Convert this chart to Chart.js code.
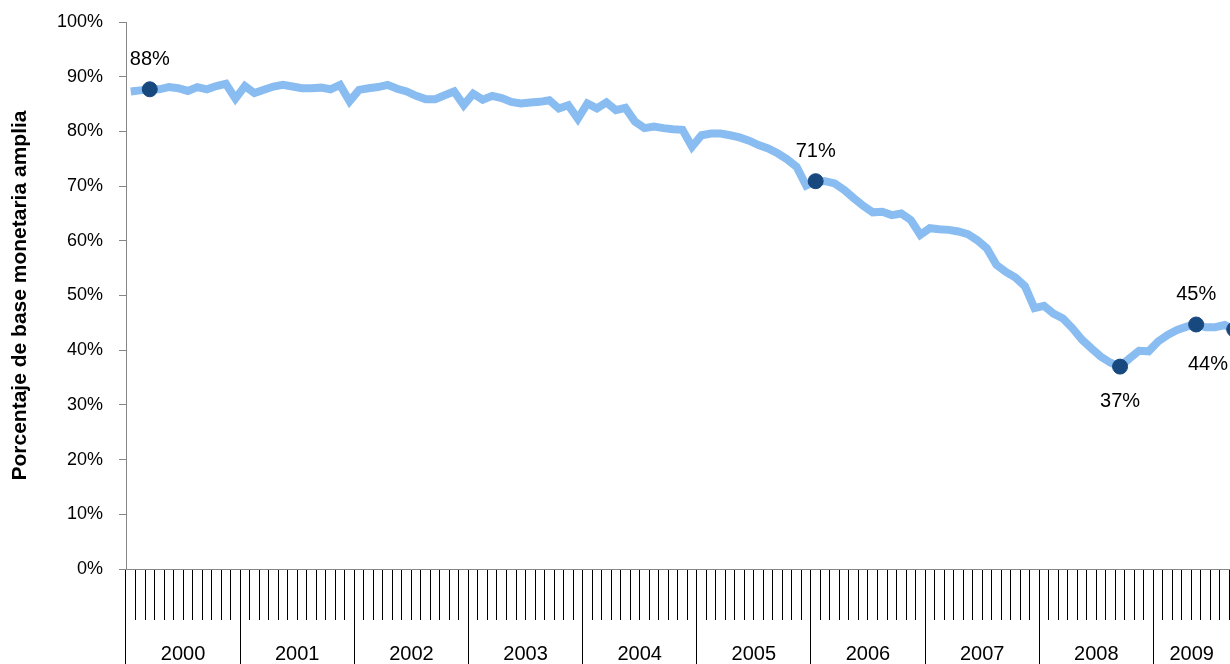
<!DOCTYPE html>
<html>
<head>
<meta charset="utf-8">
<script src="https://cdn.jsdelivr.net/npm/chart.js@4.4.1/dist/chart.umd.min.js"></script>
<style>
  html, body { margin: 0; padding: 0; background: #fff; overflow: hidden; }
</style>
</head>
<body>
<canvas id="grafico" width="1276" height="664"></canvas>
<script>
// datos: porcentaje de la base monetaria amplia, mensual ene-2000 a sep-2009
var anios = ['2000', '2001', '2002', '2003', '2004', '2005', '2006', '2007', '2008', '2009'];
var meses = ['ene', 'feb', 'mar', 'abr', 'may', 'jun', 'jul', 'ago', 'sep', 'oct', 'nov', 'dic'];
var porcentaje = [
  87.3, 87.5, 87.7, 87.7, 88.1, 87.9, 87.4, 88.1, 87.7, 88.3, 88.7, 86.0,
  88.3, 87.0, 87.6, 88.2, 88.5, 88.2, 87.9, 87.9, 88.0, 87.7, 88.5, 85.5,
  87.6, 87.9, 88.1, 88.5, 87.8, 87.3, 86.5, 85.9, 85.9, 86.6, 87.3, 84.8,
  86.9, 85.8, 86.5, 86.1, 85.4, 85.1, 85.3, 85.4, 85.7, 84.2, 84.8, 82.3,
  85.1, 84.2, 85.3, 83.9, 84.3, 81.8, 80.6, 80.9, 80.6, 80.4, 80.3, 77.2,
  79.3, 79.6, 79.6, 79.3, 78.9, 78.3, 77.5, 76.9, 76.0, 74.9, 73.5, 70.1,
  70.9, 70.9, 70.5, 69.3, 67.8, 66.4, 65.2, 65.3, 64.7, 65.0, 63.8, 61.1,
  62.3, 62.1, 62.0, 61.7, 61.2, 60.1, 58.6, 55.6, 54.3, 53.3, 51.7, 47.7,
  48.1, 46.7, 45.8, 44.0, 41.9, 40.3, 38.8, 37.7, 37.0, 38.5, 39.9, 39.8,
  41.6, 42.8, 43.7, 44.3, 44.7, 44.2, 44.2, 44.6, 43.8
];
// puntos destacados y sus etiquetas
var destacados = [2, 72, 104, 112, 116];
var textosDestacados = ['88%', '71%', '37%', '45%', '44%'];
var ubicacion = ['arriba', 'arriba', 'abajo', 'arriba', 'abajo'];

var etiquetasMes = [];
anios.forEach(function(a){
  meses.forEach(function(m){ etiquetasMes.push(m + '-' + a); });
});

var fuente = "'Liberation Sans', Arial, sans-serif";

var pluginEtiquetas = {
  id: 'etiquetas',
  afterDatasetsDraw: function(chart){
    var ctx = chart.ctx;
    var meta = chart.getDatasetMeta(0);
    var anchoVisible = window.innerWidth;
    ctx.save();
    ctx.font = '20px ' + fuente;
    ctx.fillStyle = '#000';
    ctx.textAlign = 'center';
    ctx.textBaseline = 'middle';
    destacados.forEach(function(idx, k){
      var p = meta.data[idx];
      var txt = textosDestacados[k];
      var w = ctx.measureText(txt).width;
      var x = Math.min(p.x, anchoVisible - 2 - w / 2);
      var y = ubicacion[k] === 'arriba' ? p.y - 30 : p.y + 35;
      ctx.fillText(txt, x, y);
    });
    ctx.restore();
  }
};

// rotulos de anio centrados en la parte visible de cada grupo de meses
var pluginAnios = {
  id: 'anios',
  afterDraw: function(chart){
    var ctx = chart.ctx;
    var sx = chart.scales.x2;
    var anchoVisible = window.innerWidth;
    var medio = sx.getPixelForValue(0) - sx.left;
    ctx.save();
    ctx.font = '20px ' + fuente;
    ctx.fillStyle = '#000';
    ctx.textAlign = 'center';
    ctx.textBaseline = 'middle';
    anios.forEach(function(a, i){
      var c = sx.getPixelForValue(i);
      var ini = c - medio;
      var fin = Math.min(c + medio, anchoVisible);
      ctx.fillText(a, (ini + fin) / 2, sx.top + 34);
    });
    ctx.restore();
  }
};

var ctx = document.getElementById('grafico');
var grafico = new Chart(ctx, {
  type: 'line',
  data: {
    labels: etiquetasMes,
    datasets: [{
      data: porcentaje,
      borderColor: '#89BCF0',
      borderWidth: 8,
      tension: 0,
      fill: false,
      pointRadius: function(c){ return destacados.indexOf(c.dataIndex) >= 0 ? 7.5 : 0; },
      pointHoverRadius: 0,
      pointBackgroundColor: '#17497F',
      pointBorderColor: '#17497F',
      pointBorderWidth: 1
    }]
  },
  options: {
    responsive: false,
    animation: false,
    layout: { padding: { top: 22, left: 0, right: 2, bottom: 0 } },
    plugins: {
      legend: { display: false },
      tooltip: { enabled: false }
    },
    scales: {
      x: {
        type: 'category',
        offset: true,
        grid: { offset: true, drawOnChartArea: false, tickLength: 51, color: '#000', lineWidth: 1 },
        border: { color: '#868686', width: 1 },
        ticks: { display: false, autoSkip: false }
      },
      x2: {
        type: 'category',
        labels: anios,
        position: 'bottom',
        offset: true,
        grid: { offset: true, drawOnChartArea: false, tickLength: 44, color: '#000', lineWidth: 1 },
        border: { display: false },
        ticks: { display: false, autoSkip: false },
        afterFit: function(s){ s.height = 44; }
      },
      y: {
        min: 0,
        max: 100,
        ticks: {
          stepSize: 10,
          padding: 16,
          color: '#000',
          font: { family: fuente, size: 18 },
          callback: function(v){ return v + '%'; }
        },
        grid: { drawOnChartArea: false, tickLength: 7, color: '#868686' },
        border: { color: '#868686', width: 1 },
        title: {
          display: true,
          text: 'Porcentaje de base monetaria amplia',
          color: '#000',
          font: { family: fuente, size: 21, weight: 'bold' },
          padding: { top: 8, bottom: 0 }
        },
        afterFit: function(s){
          s.width = 126;
          s.paddingTop = 0;
          s.paddingBottom = 0;
        }
      }
    }
  },
  plugins: [pluginEtiquetas, pluginAnios]
});
</script>
</body>
</html>
